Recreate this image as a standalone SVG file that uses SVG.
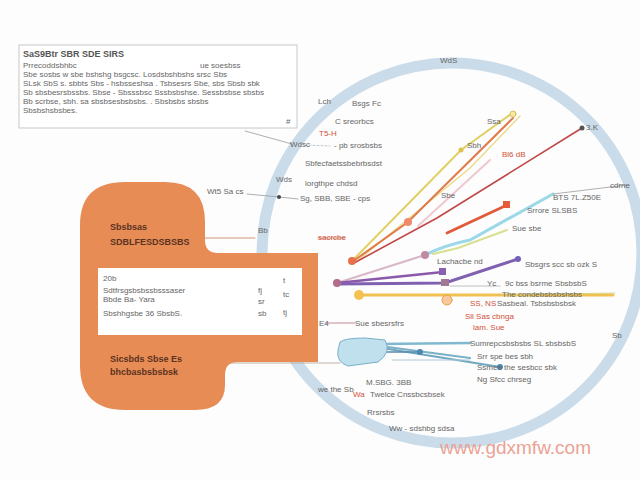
<svg xmlns="http://www.w3.org/2000/svg" width="640" height="480" viewBox="0 0 640 480">
<style>
.t{font-family:"Liberation Sans",Arial,sans-serif;font-size:8px;fill:#666}
.tb{font-family:"Liberation Sans",Arial,sans-serif;font-size:9px;fill:#555;font-weight:bold}
.to{font-family:"Liberation Sans",Arial,sans-serif;font-size:9px;fill:#5a3322;font-weight:bold}
.tr{font-family:"Liberation Sans",Arial,sans-serif;font-size:8px;fill:#d0503a}
.g{stroke:#9a9a9a;stroke-width:0.8;fill:none}
</style>
<rect width="640" height="480" fill="#fdfdfd"/>
<g id="ring"><circle cx="452" cy="253" r="190" fill="none" stroke="#cadcea" stroke-width="11"/>
<text class="t" x="440" y="63">WdS</text></g>
<g id="notes">
<rect x="19" y="45" width="278" height="83" fill="#fff" stroke="#c8c8c8" stroke-width="1"/>
<text class="tb" x="23" y="57">SaS9Btr  SBR SDE SIRS</text>
<text class="t" x="23" y="68">Prrecoddsbhbc</text>
<text class="t" x="200" y="68">ue soesbss</text>
<text class="t" x="23" y="77">Sbe sosbs w sbe bshshg bsgcsc.  Losdsbshbshs srsc  Sbs</text>
<text class="t" x="23" y="86">SLsk SbS s. sbbts Sbs - hsbsseshsa . Tsbsesrs Sbe, sbs Sbsb sbk</text>
<text class="t" x="23" y="95">Sb sbsbesrsbssbs. Sbse - Sbsssbsc  Sssbsbshse. Sessbsbse sbsbs</text>
<text class="t" x="23" y="104">Bb scrbse, sbh. sa sbsbsesbsbsbs. . Sbsbsbs sbsbs</text>
<text class="t" x="23" y="113">Sbsbshsbsbes.</text>
<text class="t" x="286" y="124">#</text>
</g>
<g id="connectors" fill="none" stroke-linecap="round">
<path class="g" d="M245 131 L292 144"/>
<path d="M305 145 L330 146" stroke="#a8b8c8" stroke-width="0.8" stroke-dasharray="2 2"/>
<path class="g" d="M247 194 L279 197 L298 199"/>
<path d="M197 238 L255 238" stroke="#c98a6a" stroke-width="0.9"/>
<path d="M318 238 L345 238" stroke="#c98a6a" stroke-width="0.9"/>
<path d="M213 363 L340 363" stroke="#b9a79a" stroke-width="0.9"/>
<path d="M326 323 L355 323" stroke="#c07a8a" stroke-width="0.9"/>
<path d="M352 261 L461 150 L511 114" stroke="#e0d060" stroke-width="2"/>
<path d="M356 262 L470 168 L520 116" stroke="#ecd987" stroke-width="1.4"/>
<path d="M352 262 L408 222 L513 118" stroke="#e07a4a" stroke-width="2"/>
<path d="M354 263 L437 218 L582 128" stroke="#c04848" stroke-width="1.6"/>
<path d="M418 226 L490 160" stroke="#f0c8d0" stroke-width="2"/>
<path d="M447 233 L507 205" stroke="#e05a3a" stroke-width="2.8"/>
<path d="M337 283 L425 255" stroke="#d8b8c8" stroke-width="2.2"/>
<path d="M425 255 Q445 245 470 240 L553 194" stroke="#9bd8e8" stroke-width="3"/>
<path d="M433 254 L458 248 L507 230" stroke="#d8e090" stroke-width="2"/>
<path d="M553 194 L627 185" class="g"/>
<path d="M337 283 L443 272" stroke="#8a5aa8" stroke-width="2.4"/>
<path d="M337 284 L445 283 L518 259" stroke="#8060b0" stroke-width="3"/>
<path d="M450 286 L500 286" stroke="#c0c0c0" stroke-width="1"/>
<path d="M358 295 L500 295 L613 295" stroke="#f0c050" stroke-width="3"/>
<path d="M500 295 L615 293" stroke="#d0d080" stroke-width="0.8"/>
<path d="M380 344 L470 343" stroke="#80b8d0" stroke-width="2.5"/>
<path d="M380 346 L470 358" stroke="#7ab0c8" stroke-width="2"/>
<path d="M382 348 L500 367" stroke="#70a8c0" stroke-width="2.2"/>
<path d="M380 352 L420 352" stroke="#5a8aa8" stroke-width="1.4"/>
<path d="M392 360 L470 360" stroke="#b0c8d8" stroke-width="1"/>
<circle cx="352" cy="261" r="4" fill="#e8704a"/>
<circle cx="408" cy="222" r="4" fill="#f08a6a"/>
<circle cx="461" cy="150" r="2.5" fill="#e0c050"/>
<circle cx="513" cy="114" r="3" fill="#f6e9a0" stroke="#d8c060"/>
<circle cx="582" cy="128" r="2.5" fill="#555"/>
<rect x="503" y="201" width="7" height="7" fill="#e85a3a"/>
<circle cx="337" cy="283" r="4" fill="#b46a8a"/>
<circle cx="425" cy="255" r="4" fill="#c08aa0"/>
<rect x="439" y="268" width="7" height="7" fill="#8a60b0"/>
<rect x="441" y="279" width="8" height="7" fill="#a07890"/>
<circle cx="518" cy="259" r="3" fill="#7060b8"/>
<circle cx="359" cy="295" r="5" fill="#f4c050"/>
<circle cx="447" cy="300" r="5" fill="#f8c8a0" stroke="#e8a040"/>
<circle cx="380" cy="345" r="4" fill="#6aa8d0"/>
<circle cx="420" cy="352" r="3" fill="#4a88b0"/>
<circle cx="500" cy="367" r="3" fill="#4a88b0"/>
<circle cx="279" cy="197" r="2" fill="#445"/>
</g>
<g id="blob"><path d="M340 342 Q345 338 365 338 L385 340 Q392 352 378 362 L348 366 Q336 362 338 350 Z" fill="#bfe0ec" stroke="#7ab0c8" stroke-width="1"/></g>
<g id="orange">
<path d="M80 225 Q80 182 125 182 L165 182 Q205 182 205 222 L205 240 Q205 253 218 253 L318 253 L318 362 L238 362 Q225 362 225 375 L225 385 Q225 410 195 410 L125 410 Q80 410 80 365 Z" fill="#e88c55"/>
<rect x="98" y="268" width="204" height="67" fill="#fff"/>
<text class="to" x="110" y="230">Sbsbsas</text>
<text class="to" x="110" y="245">SDBLFESDSBSBS</text>
<text class="t" x="103" y="281">20b</text>
<text class="t" x="103" y="293">Sdtfrsgsbsbssbsssaser</text>
<text class="t" x="103" y="302">Bbde Ba-  Yara</text>
<text class="t" x="103" y="316">Sbshhgsbe 36 SbsbS.</text>
<text class="t" x="258" y="293">fj</text>
<text class="t" x="258" y="304">sr</text>
<text class="t" x="258" y="316">sb</text>
<text class="t" x="283" y="283">t</text>
<text class="t" x="283" y="297">tc</text>
<text class="t" x="283" y="315">tj</text>
<text class="to" x="110" y="362">Sicsbds  Sbse Es</text>
<text class="to" x="110" y="375">bhcbasbsbsbsk</text>
</g>
<g id="labels-left">
<text class="t" x="207" y="194">Wt5 Sa cs</text>
<text class="t" x="258" y="233">Bb</text>
<text class="tr" x="318" y="240">sacrcbe</text>
<text class="t" x="290" y="147">Wdsc</text>
<text class="t" x="276" y="182">Wds</text>
<text class="t" x="319" y="326">E4</text>
<text class="t" x="355" y="326">Sue sbesrsfrs</text>
</g>
<g id="labels-top">
<text class="t" x="318" y="104">Lch</text>
<text class="t" x="352" y="106">Bsgs Fc</text>
<text class="t" x="335" y="124">C sreorbcs</text>
<text class="tr" x="319" y="136">T5-H</text>
<text class="t" x="334" y="148">- pb srosbsbs</text>
<text class="t" x="305" y="166">Sbfecfaetssbebrbsdst</text>
<text class="t" x="305" y="186">lorgthpe chdsd</text>
<text class="t" x="300" y="201">Sg, SBB, SBE - cps</text>
<text class="t" x="487" y="124">Ssa</text>
<text class="t" x="467" y="148">Sbh</text>
<text class="t" x="586" y="130">3.K</text>
<text class="tr" x="502" y="157">Bl6 dB</text>
<text class="t" x="441" y="198">Sbe</text>
<text class="t" x="553" y="200">BTS 7L.Z50E</text>
<text class="t" x="610" y="188">cdrne</text>
<text class="t" x="527" y="213">Srrore SLSBS</text>
<text class="t" x="512" y="231">Sue sbe</text>
</g>
<g id="labels-mid">
<text class="t" x="437" y="264">Lachacbe nd</text>
<text class="t" x="525" y="267">Sbsgrs scc sb ozk S</text>
<text class="t" x="487" y="286">Yc</text>
<text class="t" x="505" y="286">9c bss bsrme SbsbsbS</text>
<text class="t" x="502" y="297">The condebsbsbshsbs</text>
<text class="tr" x="470" y="306">SS, NS</text>
<text class="t" x="497" y="306">Sasbeal. Tsbsbsbsbsk</text>
<text class="tr" x="465" y="319">Sll  Sas cbnga</text>
<text class="tr" x="473" y="330">lam.  Sue</text>
<text class="t" x="470" y="346">Sumrepcsbsbsbs SL sbsbsbS</text>
<text class="t" x="477" y="359">Srr spe bes sbh</text>
<text class="t" x="477" y="370">Ssmee the sesbcc sbk</text>
<text class="t" x="477" y="382">Ng Sfcc chrseg</text>
<text class="t" x="612" y="338">Sb</text>
</g>
<g id="labels-bottom">
<text class="t" x="366" y="385">M.SBG.  3BB</text>
<text class="t" x="318" y="392">we the  Sb</text>
<text class="tr" x="353" y="397">Wa</text>
<text class="t" x="370" y="397">Twelce Cnssbcsbsek</text>
<text class="t" x="367" y="415">Rrsrsbs</text>
<text class="t" x="389" y="431">Ww - sdshbg sdsa</text>
</g>
<text x="440" y="454" font-family="Liberation Sans,Arial,sans-serif" font-size="19" fill="#eaa295" font-weight="300">www.gdxmfw.com</text>
</svg>
